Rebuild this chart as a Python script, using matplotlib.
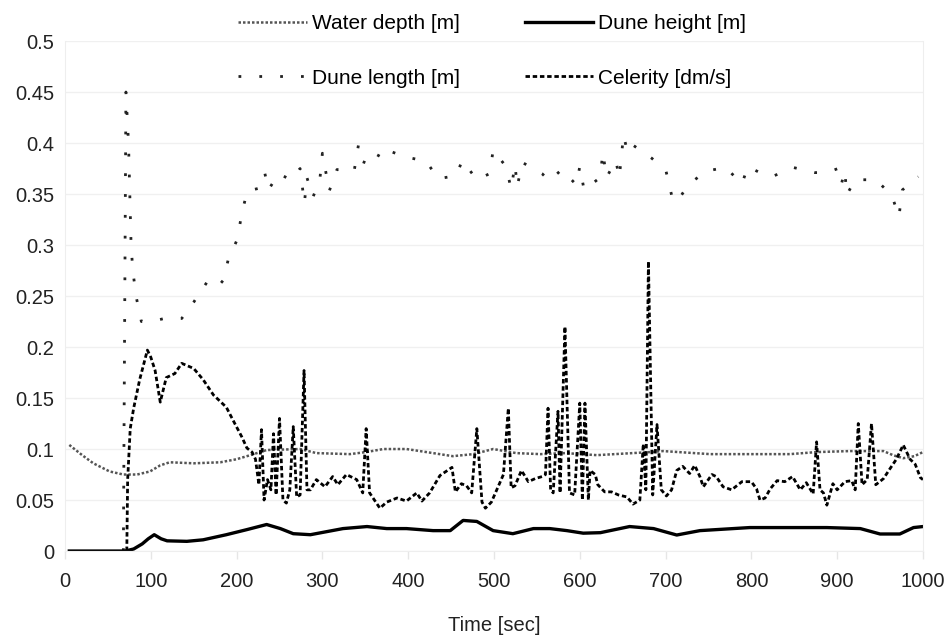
import matplotlib.pyplot as plt

plt.rcParams['font.family'] = ['Liberation Sans Narrow', 'Liberation Sans', 'DejaVu Sans']

# water depth [m]
t_depth = [5, 20, 33, 52, 68, 84, 99, 111, 122, 150, 181, 200, 216, 235, 274, 293, 332, 351,
           371, 398, 429, 452, 476, 499, 526, 554, 583, 620, 682, 697, 752, 845, 876, 915,
           954, 965, 977, 990, 1000]
depth = [0.104, 0.094, 0.086, 0.078, 0.075, 0.075, 0.078, 0.084, 0.087, 0.086, 0.087, 0.09,
         0.094, 0.099, 0.1, 0.096, 0.095, 0.097, 0.1, 0.1, 0.096, 0.093, 0.095, 0.1, 0.096,
         0.095, 0.096, 0.094, 0.097, 0.098, 0.095, 0.095, 0.097, 0.098, 0.098, 0.094, 0.091,
         0.093, 0.097]

# dune height [m]
t_height = [5, 70, 80, 90, 97, 104, 112, 119, 142, 161, 188, 212, 235, 251, 266, 286, 305,
            324, 352, 375, 398, 429, 449, 464, 480, 499, 522, 546, 565, 585, 604, 624, 658,
            686, 713, 740, 798, 837, 888, 927, 950, 973, 989, 1000]
height = [0, 0, 0.002, 0.007, 0.012, 0.016, 0.012, 0.01, 0.0095, 0.011, 0.016, 0.021, 0.026,
          0.022, 0.017, 0.016, 0.019, 0.022, 0.024, 0.022, 0.022, 0.02, 0.02, 0.03, 0.029,
          0.02, 0.017, 0.022, 0.022, 0.02, 0.0175, 0.018, 0.024, 0.022, 0.0157, 0.02, 0.023,
          0.023, 0.023, 0.022, 0.0167, 0.0167, 0.023, 0.024]

# dune length [m]
t_length = [68, 71, 74, 77, 79, 83, 89, 100, 116, 136, 150, 165, 177, 185, 190, 201, 206,
            212.5, 228, 233, 237, 249, 263, 274, 279, 282, 289, 297, 300, 308, 317, 337,
            342, 346, 359, 370, 394, 421, 435, 456, 463, 480, 495, 499, 514, 520, 524.5,
            527, 533, 556, 564.5, 579, 596, 600, 605, 623.5, 627, 631, 642, 646, 651, 655,
            658.5, 667, 684, 700.5, 707, 713, 726.5, 747, 770, 789, 796, 812, 824, 835, 849,
            874, 888, 901, 905, 909, 911, 921, 945, 963.5, 972, 976, 994.5]
length = [0.0, 0.45, 0.40, 0.30, 0.275, 0.249, 0.225, 0.225, 0.228, 0.228, 0.244, 0.263,
          0.258, 0.266, 0.285, 0.306, 0.331, 0.353, 0.356, 0.37, 0.354, 0.37, 0.364, 0.375,
          0.341, 0.366, 0.347, 0.364, 0.39, 0.353, 0.374, 0.3725, 0.398, 0.382, 0.378, 0.395,
          0.387, 0.382, 0.365, 0.368, 0.383, 0.364, 0.37, 0.393, 0.377, 0.355, 0.379, 0.357,
          0.381, 0.37, 0.363, 0.374, 0.359, 0.377, 0.354, 0.366, 0.391, 0.366, 0.383, 0.366,
          0.408, 0.393, 0.4, 0.395, 0.385, 0.3725, 0.349, 0.342, 0.359, 0.3725, 0.376, 0.36,
          0.377, 0.37, 0.367, 0.371, 0.376, 0.371, 0.371, 0.375, 0.36, 0.373, 0.349, 0.364,
          0.364, 0.349, 0.328, 0.354, 0.367]

# celerity [dm/s]
t_cel = [72, 73, 76, 80, 87, 96, 100, 105, 111, 118, 128, 136, 150, 161, 173, 188, 196, 206,
         212, 218, 222, 226, 229, 232, 236, 240, 243, 246, 250, 254, 258, 262, 266, 270, 274,
         278.6, 282, 286, 293, 303, 312, 318, 328, 340, 347, 351, 355, 367, 375, 387, 398,
         410, 416, 425, 437, 451, 455, 462, 468, 474, 480, 486, 490, 497, 511, 516.7, 520,
         524.5, 532, 540, 548, 556, 560, 563, 566, 569, 574.6, 577, 582.7, 588, 594, 600,
         603, 606, 610, 612, 618, 621, 629, 637, 645, 655, 662, 670, 674, 677, 680, 685, 690,
         695, 701, 707, 713, 720, 728, 734, 740, 744, 754, 759, 767, 777, 789, 800, 806, 810,
         816, 822, 830, 839, 848, 857, 864, 872, 876, 880, 884, 888, 895, 900, 909, 917, 921,
         924.6, 929, 935, 940, 945, 954, 961, 969, 977, 985, 991, 997, 1000]
cel = [0.0, 0.07, 0.12, 0.14, 0.168, 0.197, 0.19, 0.177, 0.146, 0.17, 0.174, 0.184, 0.179,
       0.168, 0.153, 0.141, 0.128, 0.112, 0.101, 0.097, 0.09, 0.065, 0.119, 0.05, 0.07, 0.06,
       0.115, 0.055, 0.13, 0.05, 0.047, 0.06, 0.122, 0.053, 0.055, 0.177, 0.06, 0.06, 0.07,
       0.063, 0.073, 0.065, 0.075, 0.07, 0.057, 0.12, 0.057, 0.042, 0.048, 0.052, 0.049,
       0.057, 0.049, 0.057, 0.074, 0.082, 0.058, 0.066, 0.064, 0.057, 0.12, 0.048, 0.042,
       0.048, 0.075, 0.14, 0.062, 0.064, 0.079, 0.068, 0.071, 0.073, 0.075, 0.14, 0.06,
       0.057, 0.137, 0.057, 0.22, 0.057, 0.055, 0.145, 0.05, 0.145, 0.05, 0.079, 0.075,
       0.065, 0.058, 0.058, 0.055, 0.053, 0.046, 0.05, 0.105, 0.06, 0.284, 0.055, 0.124,
       0.06, 0.054, 0.06, 0.079, 0.083, 0.076, 0.084, 0.073, 0.063, 0.075, 0.073, 0.063,
       0.06, 0.068, 0.068, 0.061, 0.05, 0.052, 0.061, 0.069, 0.068, 0.073, 0.06, 0.067,
       0.056, 0.107, 0.06, 0.057, 0.045, 0.066, 0.06, 0.068, 0.069, 0.06, 0.125, 0.065,
       0.07, 0.125, 0.065, 0.071, 0.08, 0.09, 0.104, 0.09, 0.085, 0.072, 0.07]

fig = plt.figure(figsize=(9.52, 6.42), dpi=100)
ax = fig.add_axes([0.0683, 0.1417, 0.9012, 0.7944])

l_depth, = ax.plot(t_depth, depth, color='#555555', lw=1.8, linestyle=(0, (1, 0.8)),
                   label='Water depth [m]')
l_length, = ax.plot(t_length, length, color='#222222', lw=2, linestyle=(0, (1, 6.5)),
                    label='Dune length [m]')
l_height, = ax.plot(t_height, height, color='black', lw=2.4, label='Dune height [m]')
l_cel, = ax.plot(t_cel, cel, color='black', lw=2, linestyle=(0, (1.6, 1)),
                 label='Celerity [dm/s]')

ax.set_xlim(0, 1000)
ax.set_ylim(0, 0.5)
ax.set_xticks(range(0, 1001, 100))
ax.set_yticks([0, 0.05, 0.1, 0.15, 0.2, 0.25, 0.3, 0.35, 0.4, 0.45, 0.5])
ax.set_yticklabels(['0', '0.05', '0.1', '0.15', '0.2', '0.25', '0.3', '0.35', '0.4', '0.45', '0.5'])
ax.grid(axis='y', color='#f0f0f0', lw=1)
ax.set_axisbelow(True)
ax.spines['top'].set_visible(False)
for s in ['left', 'right', 'bottom']:
    ax.spines[s].set_color('#eeeeee')
ax.tick_params(axis='x', colors='#e6e6e6', length=6, width=1, labelcolor='#222222',
               labelsize=14.5, pad=9)
ax.tick_params(axis='y', length=0, labelcolor='#222222', labelsize=14.5, pad=8)
ax.set_xlabel('Time [sec]', fontsize=14.5, color='#222222', labelpad=18)

fig.legend(handles=[l_depth, l_length, l_height, l_cel], ncol=2, loc='upper left',
           bbox_to_anchor=(0.2303, 1.007), frameon=False, fontsize=15,
           handlelength=3.3, handletextpad=0.25, columnspacing=3.1, labelspacing=1.7)

fig.savefig('out.png', dpi=100)
